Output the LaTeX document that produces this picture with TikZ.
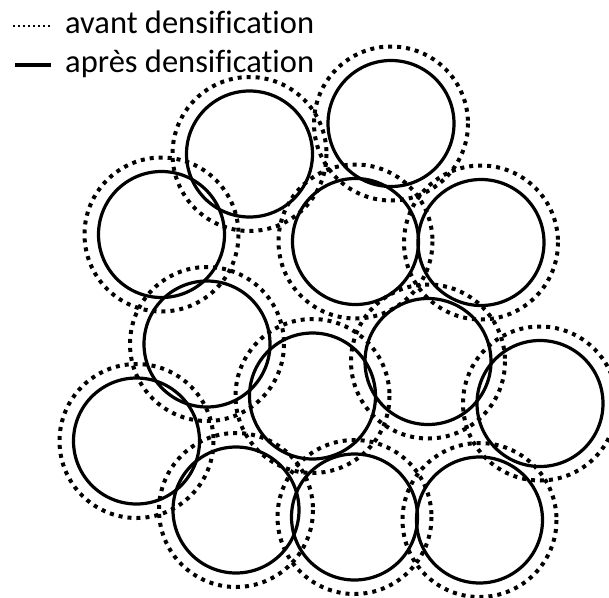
\documentclass[tikz,border=0pt]{standalone}
\usepackage{fontspec}
\setmainfont{Carlito}[Ligatures=CommonOff]
\begin{document}
\begin{tikzpicture}[x=1pt,y=-1pt,
  apres/.style={line width=3.2pt},
  avant/.style={line width=4pt,dash pattern=on 4pt off 5pt},
  legavant/.style={line width=2pt,dash pattern=on 2pt off 3pt},
  legtext/.style={anchor=base west,inner sep=0pt,font=\fontsize{32.5}{36}\selectfont}]
\useasboundingbox (0,0) rectangle (609,597);
\begin{scope}
\clip (0,0) rectangle (609,597);
\foreach \name/\cx/\cy in {c1/249.5/154, c2/391/123.5, c3/161.5/234.5, c4/355.5/241.5,
  c5/481/242.5, c6/207/344, c7/312.5/396, c8/428/361.5, c9/540/403.5,
  c10/136.5/441, c11/236/510, c12/354.5/517, c13/479.5/520}{
  \coordinate (\name) at (\cx,\cy);
  \draw[avant] (\name) circle[radius=77];
  \draw[apres] (\name) circle[radius=63];
}
\end{scope}
\coordinate (la1) at (13,26);
\coordinate (la2) at (50,26);
\coordinate (lb1) at (15,65);
\coordinate (lb2) at (51,65);
\draw[legavant] (la1) -- (la2);
\draw[apres] (lb1) -- (lb2);
\node[legtext] (ta) at (65,33) {avant densification};
\node[legtext] (tb) at (65,72) {après densification};
\end{tikzpicture}
\end{document}
